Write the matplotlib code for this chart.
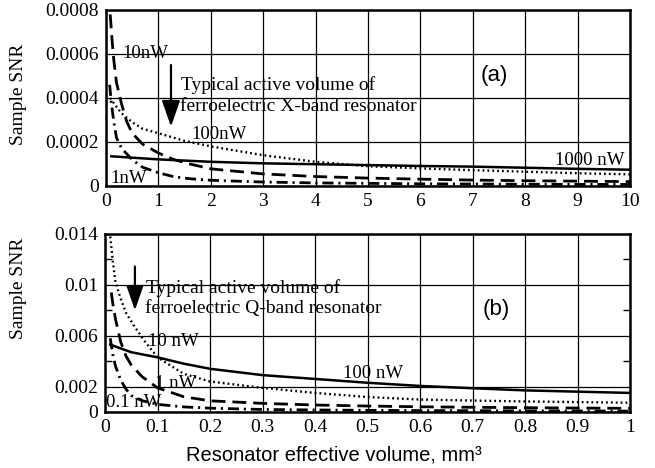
import matplotlib
matplotlib.use("Agg")
import matplotlib.pyplot as plt

plt.rcParams['font.family'] = ['Liberation Serif', 'DejaVu Serif']
plt.rcParams['lines.scale_dashes'] = False

# ---------------- panel (a) data ----------------
xa_10 = [0.08, 0.12, 0.15, 0.2, 0.3, 0.4, 0.5, 0.7, 1.0, 1.3, 1.6, 2.0, 3.0, 4.0, 5.0, 6.0, 7.0, 8.0, 9.0, 10.0]
ya_10 = [0.00078, 0.00065, 0.00057, 0.00047, 0.00037, 0.00029, 0.00024, 0.00019, 0.00015, 0.00012, 0.0001,
         0.000078, 0.000055, 0.000043, 0.000036, 0.000031, 0.000027, 0.000024, 0.000022, 0.00002]
xa_1 = [0.07, 0.1, 0.15, 0.2, 0.3, 0.5, 0.7, 1.0, 1.3, 1.6, 2.0, 3.0, 4.0, 5.0, 6.0, 7.0, 8.0, 9.0, 10.0]
ya_1 = [0.00046, 0.00038, 0.00029, 0.00022, 0.00017, 0.00012, 0.000085, 0.00006, 0.000042, 0.000033, 0.000026,
        0.000018, 0.000014, 0.000012, 0.00001, 0.000009, 0.000008, 0.0000075, 0.000007]
xa_100 = [0.08, 0.2, 0.3, 0.5, 0.7, 1.0, 1.5, 2.0, 3.0, 4.0, 5.0, 6.0, 7.0, 8.0, 9.0, 10.0]
ya_100 = [0.0004, 0.00036, 0.00033, 0.00029, 0.00026, 0.00024, 0.000205, 0.00018, 0.00014, 0.00011, 0.00009,
          0.00008, 0.000072, 0.000065, 0.000058, 0.000053]
xa_1000 = [0.1, 1, 2, 3, 4, 5, 6, 7, 8, 9, 10]
ya_1000 = [0.000135, 0.000121, 0.00011, 0.000103, 0.000099, 0.000095, 0.000091, 0.000088, 0.000083, 0.000078, 0.000074]

xa_ticks = list(range(0, 11))
xa_ticklabels = [str(v) for v in xa_ticks]
ya_ticks = [0, 0.0002, 0.0004, 0.0006, 0.0008]
ya_ticklabels = ["0", "0.0002", "0.0004", "0.0006", "0.0008"]

# ---------------- panel (b) data ----------------
xb_10 = [0.01, 0.015, 0.02, 0.03, 0.04, 0.055, 0.075, 0.1, 0.15, 0.2, 0.3, 0.4, 0.5, 0.6, 0.7, 0.8, 0.9, 1.0]
yb_10 = [0.0138, 0.0118, 0.0102, 0.0089, 0.0078, 0.0068, 0.0056, 0.0043, 0.003, 0.0024, 0.0019, 0.0015,
         0.00118, 0.00098, 0.0009, 0.00083, 0.00078, 0.00073]
xb_1 = [0.012, 0.015, 0.02, 0.025, 0.03, 0.04, 0.05, 0.07, 0.1, 0.15, 0.2, 0.3, 0.4, 0.5, 0.6, 0.7, 0.8, 0.9, 1.0]
yb_1 = [0.0094, 0.0085, 0.0073, 0.0064, 0.0055, 0.0044, 0.0037, 0.0028, 0.0019, 0.0012, 0.00088, 0.00068,
        0.00055, 0.00047, 0.00041, 0.00037, 0.00034, 0.00031, 0.00029]
xb_01 = [0.01, 0.015, 0.02, 0.03, 0.04, 0.05, 0.07, 0.1, 0.15, 0.2, 0.3, 0.4, 0.5, 0.6, 0.7, 0.8, 0.9, 1.0]
yb_01 = [0.0058, 0.0045, 0.0036, 0.0025, 0.0018, 0.0013, 0.0009, 0.0006, 0.0004, 0.0003, 0.0002, 0.00016,
         0.00013, 0.00011, 0.0001, 0.00009, 0.00008, 0.00007]
xb_100 = [0.01, 0.03, 0.05, 0.075, 0.1, 0.15, 0.2, 0.3, 0.4, 0.5, 0.6, 0.7, 0.8, 0.9, 1.0]
yb_100 = [0.0053, 0.005, 0.0047, 0.0045, 0.0043, 0.0038, 0.0034, 0.0029, 0.0026, 0.0023, 0.00205, 0.00187,
          0.0017, 0.0016, 0.0015]

xb_ticks = [0, 0.1, 0.2, 0.3, 0.4, 0.5, 0.6, 0.7, 0.8, 0.9, 1.0]
xb_ticklabels = ["0", "0.1", "0.2", "0.3", "0.4", "0.5", "0.6", "0.7", "0.8", "0.9", "1"]
yb_ticks = [0, 0.002, 0.006, 0.01, 0.014]
yb_ticklabels = ["0", "0.002", "0.006", "0.01", "0.014"]
yb_minor = [0.004, 0.008, 0.012]

W, H = 655, 468
fig = plt.figure(figsize=(W / 100, H / 100), dpi=100)

def frac(l, t, r, b):
    return [l / W, 1 - b / H, (r - l) / W, (b - t) / H]

axa = fig.add_axes(frac(106, 10, 630, 186))
axb = fig.add_axes(frac(105, 234, 630, 412))

DASH = (0, (10, 5))
DASHDOT = (0, (8, 3.5, 1.5, 3.5))
DOT = (0, (1.3, 2.2))

TICKFS = 14
ANNFS = 14
LBLFS = 13.5

def style(ax, xt, xtl, yt, ytl, xlim, ylim):
    ax.set_xlim(*xlim)
    ax.set_ylim(*ylim)
    ax.set_xticks(xt)
    ax.set_xticklabels(xtl, fontsize=TICKFS)
    ax.set_yticks(yt)
    ax.set_yticklabels(ytl, fontsize=TICKFS)
    ax.grid(True, color='black', lw=0.9)
    ax.set_axisbelow(True)
    ax.tick_params(which='major', length=0, pad=5)
    for s in ax.spines.values():
        s.set_linewidth(1.8)

# panel (a)
axa.plot(xa_10, ya_10, color='black', lw=2.0, linestyle=DASH)
axa.plot(xa_1, ya_1, color='black', lw=2.0, linestyle=DASHDOT)
axa.plot(xa_100, ya_100, color='black', lw=1.7, linestyle=DOT)
axa.plot(xa_1000, ya_1000, color='black', lw=1.8, linestyle='-')
style(axa, xa_ticks, xa_ticklabels, ya_ticks, ya_ticklabels, (0, 10), (0, 0.0008))

axa.text(0.32, 0.0006, "10nW", fontsize=LBLFS, ha='left', va='center')
axa.text(1.44, 0.000459, "Typical active volume of", fontsize=ANNFS, ha='left', va='center')
axa.text(1.41, 0.00036, "ferroelectric X-band resonator", fontsize=ANNFS, ha='left', va='center')
axa.text(1.63, 0.000232, "100nW", fontsize=LBLFS, ha='left', va='center')
axa.text(0.08, 0.000035, "1nW", fontsize=LBLFS, ha='left', va='center')
axa.text(9.9, 0.000114, "1000 nW", fontsize=LBLFS, ha='right', va='center')
axa.text(7.42, 0.0005, "(a)", fontsize=16, ha='center', va='center', family=['Liberation Sans', 'DejaVu Sans'])
axa.annotate('', xy=(1.24, 0.00027), xytext=(1.24, 0.00055),
             arrowprops=dict(arrowstyle='-|>,head_length=0.8,head_width=0.28', lw=1.6,
                             color='black', mutation_scale=20, shrinkA=0, shrinkB=0))
axa.set_ylabel("Sample SNR", fontsize=14)

# panel (b)
axb.plot(xb_10, yb_10, color='black', lw=1.7, linestyle=DOT)
axb.plot(xb_1, yb_1, color='black', lw=2.0, linestyle=DASH)
axb.plot(xb_01, yb_01, color='black', lw=2.0, linestyle=DASHDOT)
axb.plot(xb_100, yb_100, color='black', lw=1.8, linestyle='-')
style(axb, xb_ticks, xb_ticklabels, yb_ticks, yb_ticklabels, (0, 1), (0, 0.014))
axb.set_yticks(yb_minor, minor=True)
axb.tick_params(which='minor', direction='in', length=5, width=1, left=True, right=True)

axb.text(0.079, 0.00973, "Typical active volume of", fontsize=ANNFS, ha='left', va='center')
axb.text(0.076, 0.00816, "ferroelectric Q-band resonator", fontsize=ANNFS, ha='left', va='center')
axb.text(0.0825, 0.00553, "10 nW", fontsize=LBLFS, ha='left', va='center')
axb.text(0.095, 0.00226, "1 nW", fontsize=LBLFS, ha='left', va='center')
axb.text(0.002, 0.00073, "0.1 nW", fontsize=LBLFS, ha='left', va='center')
axb.text(0.454, 0.003, "100 nW", fontsize=LBLFS, ha='left', va='center')
axb.text(0.745, 0.0081, "(b)", fontsize=16, ha='center', va='center', family=['Liberation Sans', 'DejaVu Sans'])
axb.annotate('', xy=(0.057, 0.0080), xytext=(0.057, 0.01144),
             arrowprops=dict(arrowstyle='-|>,head_length=0.75,head_width=0.26', lw=1.6,
                             color='black', mutation_scale=20, shrinkA=0, shrinkB=0))
axb.set_ylabel("Sample SNR", fontsize=14)

fig.canvas.draw()
for ax, yc in ((axa, 94), (axb, 288)):
    ax.yaxis.set_label_coords(27 / W, 1 - yc / H, transform=fig.transFigure)

fig.text(334 / W, 1 - 455 / H, "Resonator effective volume, mm³", fontsize=14.5,
         ha='center', va='center', family=['Liberation Sans', 'DejaVu Sans'])

fig.savefig("out.png", dpi=100)
